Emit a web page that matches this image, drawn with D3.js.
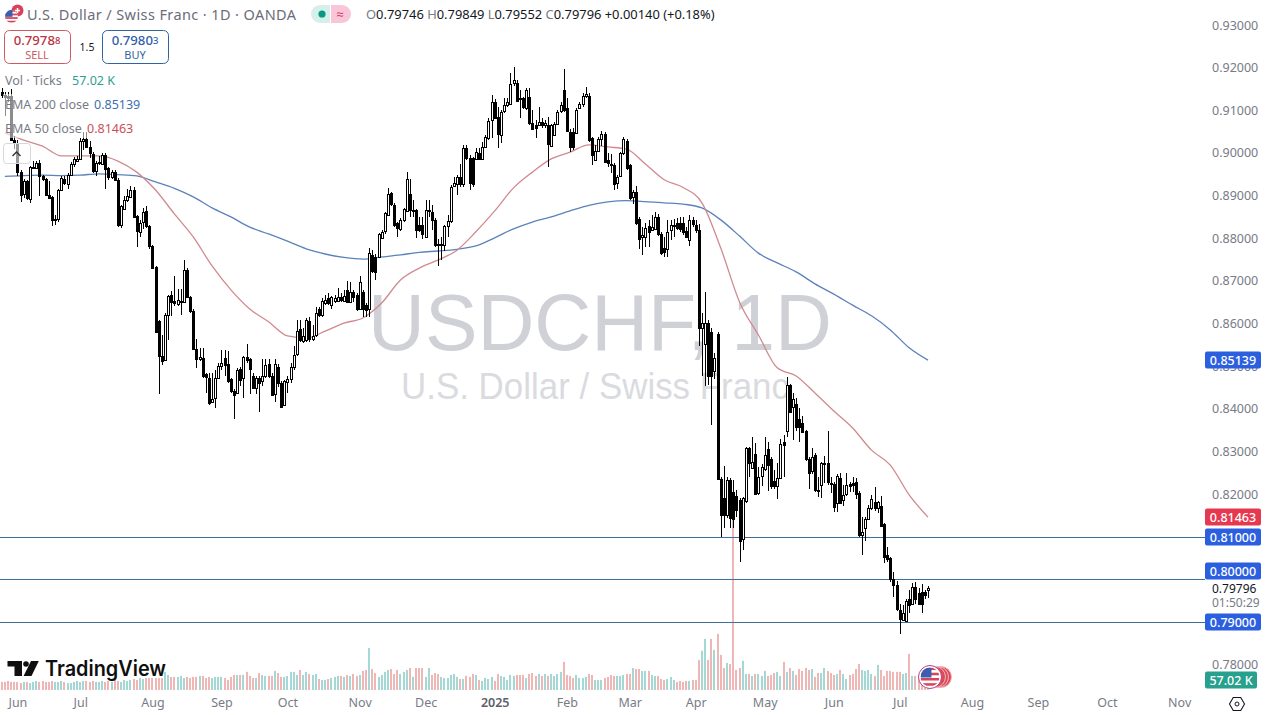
<!DOCTYPE html>
<html><head><meta charset="utf-8">
<script src="https://cdn.jsdelivr.net/npm/d3@7"></script>
<style>
html,body{margin:0;padding:0;background:#fff;overflow:hidden}
svg{display:block}
text{font-family:"Noto Sans","Open Sans",sans-serif}
</style></head><body><div id="chart"></div>
<script>
const lastDate = "2025-07-14";
const opens = [
.9143,.9136,.9134,.9133,.9030,.9023,.8956,.8902,.8933,.8893,
.8967,.8964,.8976,.8945,.8938,.8902,.8896,.8842,.8843,.8912,
.8939,.8929,.8949,.8974,.8982,.8986,.9028,.9032,.9013,.8998,
.8957,.8976,.8976,.8996,.8964,.8945,.8956,.8937,.8832,.8867,
.8889,.8898,.8914,.8851,.8816,.8837,.8863,.8829,.8781,.8733,
.8605,.8524,.8514,.8619,.8668,.8652,.8647,.8650,.8650,.8726,
.8662,.8629,.8541,.8517,.8520,.8481,.8473,.8418,.8426,.8473,
.8500,.8520,.8504,.8469,.8442,
.8438,.8494,.8473,.8522,.8516,
.8478,.8450,.8473,.8465,.8477,.8504,.8478,.8434,.8498,.8461,
.8408,.8461,.8469,.8498,.8527,
.8586,.8559,.8561,.8606,.8563,
.8573,.8635,.8620,.8649,.8659,.8643,
.8653,.8653,.8663,.8653,
.8678,.8651,.8674,.8667,.8635,.8674,.8643,.8635,.8761,.8757,
.8757,.8802,.8815,.8854,.8905,.8878,.8835,.8821,.8843,.8866,
.8903,.8865,.8865,.8831,.8831,.8802,.8865,.8862,.8843,.8786,
.8784,.8784,.8829,.8841,.8922,.8927,.8943,.8927,.9011,.8987,
.8987,.8987,.8999,.8987,.9013,.9037,.9077,.9120,.9085,.9044,
.9097,.9112,.9116,.9163,.9165,.9128,.9128,.9105,.9130,.9071,
.9065,.9065,.9073,.9065,.9065,.9016,.9044,.9069,.9097,.9148,.9106,
.9050,.9048,.9048,
.9105,.9115,.9134,.9134,.9034,.8985,.9005,
.9032,.9044,.8983,.8974,.8972,.8930,.8944,.8999,.9029,.8971,
.8896,.8909,.8844,.8803,.8805,.8829,.8821,.8823,.8850,.8810,
.8776,.8774,.8819,.8829,.8835,.8836,.8836,.8818,.8797,.8843,
.8831,.8820,.8591,.8552,.8602,.8581,.8490,.8576,.8235,.8190,.8149,
.8233,.8206,.8196,.8186,.8094,.8182,.8307,.8263,.8294,.8202,
.8242,.8260,.8305,.8282,.8231,.8219,.8239,.8321,.8347,.8456,
.8403,.8411,.8375,.8367,.8347,.8282,.8252,.8292,.8210,.8221,
.8272,.8274,.8225,.8224,.8178,.8237,.8186,.8200,.8224,.8225,
.8229,.8202,.8104,.8120,.8141,.8167,.8182,.8169,.8172,.8130,
.8057,.8049,.8000,.7986,.7929,.7904,.7904,.7955,.7942,.7983,.7967,.7971,.7971,.79746];
const closes = [
.9136,.9131,.9129,.9030,.9023,.8955,.8902,.8933,.8893,.8967,
.8968,.8976,.8945,.8937,.8900,.8896,.8843,.8845,.8912,.8941,
.8929,.8949,.8974,.8986,.8986,.9028,.9032,.9013,.8998,.8957,
.8976,.8978,.8996,.8964,.8943,.8956,.8937,.8832,.8876,.8889,
.8898,.8914,.8851,.8816,.8836,.8861,.8828,.8781,.8730,.8580,
.8524,.8512,.8619,.8664,.8652,.8647,.8656,.8652,.8726,.8662,
.8629,.8541,.8517,.8522,.8477,.8473,.8414,.8424,.8473,.8500,
.8508,.8504,.8465,.8442,.8432,
.8492,.8469,.8522,.8514,.8492,
.8450,.8473,.8461,.8477,.8502,.8477,.8434,.8505,.8461,.8405,
.8465,.8469,.8498,.8527,.8582,
.8561,.8570,.8608,.8563,.8570,
.8624,.8620,.8653,.8655,.8647,.8661,
.8659,.8663,.8655,.8664,
.8651,.8674,.8663,.8633,.8698,.8633,.8631,.8766,.8724,.8722,
.8810,.8815,.8858,.8904,.8880,.8831,.8823,.8843,.8868,.8940,
.8865,.8866,.8818,.8819,.8811,.8866,.8866,.8844,.8784,.8784,
.8786,.8829,.8841,.8921,.8929,.8944,.8927,.9011,.8987,.8929,
.8925,.9003,.8985,.9015,.9037,.9076,.9120,.9083,.9044,.9097,
.9112,.9120,.9162,.9170,.9123,.9126,.9108,.9148,.9069,.9058,
.9058,.9073,.9065,.9070,.9021,.9065,.9069,.9097,.9112,.9102,.9052,
.9015,.9013,.9101,
.9115,.9134,.9138,.9030,.8993,.9005,.9032,
.9044,.8979,.8976,.8972,.8927,.8944,.8999,.9032,.8966,.8893,
.8908,.8836,.8797,.8807,.8825,.8815,.8827,.8850,.8810,.8766,
.8766,.8815,.8831,.8831,.8823,.8823,.8815,.8805,.8843,.8833,
.8819,.8591,.8602,.8601,.8477,.8477,.8520,.8235,.8151,.8149,.8232,
.8143,.8143,.8164,.8091,.8190,.8307,.8272,.8276,.8200,.8239,
.8264,.8292,.8268,.8219,.8219,.8237,.8318,.8313,.8456,.8393,
.8422,.8357,.8357,.8347,.8282,.8250,.8286,.8210,.8208,.8272,
.8274,.8229,.8224,.8169,.8242,.8178,.8198,.8221,.8219,.8221,
.8202,.8104,.8112,.8141,.8167,.8188,.8167,.8182,.8125,.8052,
.8047,.8000,.7986,.7929,.7908,.7920,.7950,.7942,.7981,.7955,.7942,.7943,.7965,.79796];
const highs = [
.9152,.9143,.9143,.9150,.9040,.9030,.8960,.8939,.8937,.8970,
.8980,.8982,.8984,.8949,.8941,.8933,.8898,.8855,.8915,.8945,
.8945,.8953,.8978,.8990,.8992,.9034,.9050,.9048,.9027,.9003,
.8980,.8992,.8999,.8999,.8968,.8960,.8960,.8941,.8878,.8900,
.8915,.8923,.8921,.8855,.8843,.8871,.8875,.8832,.8785,.8734,
.8608,.8574,.8625,.8668,.8676,.8711,.8680,.8680,.8748,.8730,
.8664,.8633,.8563,.8543,.8543,.8485,.8485,.8485,.8492,.8508,
.8539,.8539,.8535,.8473,.8446,
.8496,.8498,.8524,.8551,.8520,
.8483,.8477,.8477,.8516,.8517,.8517,.8485,.8517,.8504,.8465,
.8467,.8477,.8508,.8547,.8609,
.8608,.8590,.8612,.8616,.8596,
.8639,.8639,.8659,.8667,.8671,.8664,
.8667,.8684,.8671,.8678,
.8700,.8698,.8678,.8671,.8711,.8678,.8647,.8776,.8772,.8764,
.8813,.8819,.8862,.8917,.8909,.8882,.8839,.8847,.8872,.8956,
.8940,.8890,.8868,.8850,.8850,.8890,.8890,.8878,.8847,.8797,
.8803,.8831,.8854,.8925,.8944,.8948,.8974,.9019,.9019,.8995,
.8991,.9011,.9011,.9026,.9042,.9081,.9136,.9126,.9107,.9101,
.9128,.9128,.9187,.9201,.9170,.9148,.9132,.9152,.9152,.9101,
.9077,.9108,.9081,.9078,.9085,.9069,.9073,.9101,.9120,.9196,.9128,
.9055,.9058,.9105,
.9120,.9140,.9154,.9140,.9038,.9019,.9037,
.9052,.9048,.8999,.8997,.8976,.8948,.9003,.9037,.9032,.8974,
.8913,.8922,.8849,.8827,.8835,.8843,.8854,.8862,.8857,.8815,
.8803,.8843,.8843,.8844,.8847,.8849,.8849,.8827,.8854,.8850,
.8843,.8834,.8624,.8675,.8608,.8589,.8530,.8579,.8241,.8266,.8241,
.8237,.8233,.8210,.8190,.8194,.8311,.8311,.8335,.8319,.8264,
.8270,.8333,.8323,.8286,.8256,.8272,.8329,.8339,.8475,.8458,
.8436,.8425,.8401,.8382,.8350,.8286,.8307,.8296,.8241,.8276,
.8290,.8349,.8241,.8229,.8247,.8249,.8221,.8249,.8229,.8241,
.8237,.8208,.8147,.8147,.8174,.8198,.8217,.8184,.8196,.8133,
.8077,.8053,.8018,.7997,.7943,.7940,.7953,.7975,.7992,.7994,.7979,.7990,.7976,.79849];
const lows = [
.9129,.9087,.9120,.9030,.9010,.8945,.8886,.8894,.8890,.8882,
.8964,.8962,.8898,.8933,.8898,.8894,.8828,.8832,.8837,.8910,
.8925,.8915,.8945,.8968,.8980,.8984,.9007,.9011,.8988,.8953,
.8946,.8972,.8972,.8915,.8937,.8939,.8933,.8826,.8824,.8865,
.8884,.8894,.8847,.8779,.8804,.8822,.8824,.8775,.8728,.8577,
.8434,.8502,.8512,.8561,.8617,.8641,.8641,.8619,.8648,.8660,
.8625,.8539,.8496,.8512,.8473,.8438,.8410,.8413,.8403,.8469,
.8492,.8477,.8461,.8438,.8377,
.8434,.8453,.8426,.8508,.8434,
.8446,.8434,.8393,.8453,.8473,.8473,.8430,.8416,.8450,.8403,
.8407,.8438,.8461,.8492,.8524,
.8557,.8555,.8557,.8557,.8559,
.8569,.8616,.8616,.8643,.8643,.8635,
.8649,.8651,.8651,.8651,
.8647,.8647,.8651,.8630,.8631,.8616,.8616,.8616,.8718,.8703,
.8753,.8797,.8811,.8852,.8875,.8827,.8802,.8818,.8839,.8862,
.8849,.8850,.8800,.8815,.8797,.8800,.8850,.8819,.8780,.8735,
.8749,.8771,.8803,.8835,.8919,.8901,.8921,.8921,.8983,.8913,
.8921,.8983,.8983,.8985,.9011,.9030,.9034,.9079,.9011,.9024,
.9093,.9108,.9112,.9157,.9120,.9081,.9102,.9101,.9065,.9054,
.9034,.9063,.9058,.9058,.8966,.9015,.9040,.9065,.9093,.9097,.9048,
.9003,.9007,.9044,
.9102,.9108,.9128,.9026,.8972,.8983,.9003,
.9016,.8976,.8968,.8952,.8913,.8915,.8943,.8995,.8961,.8890,
.8880,.8831,.8774,.8761,.8780,.8780,.8818,.8819,.8805,.8761,
.8757,.8757,.8796,.8803,.8819,.8815,.8807,.8800,.8782,.8827,
.8813,.8547,.8477,.8454,.8456,.8362,.8470,.8233,.8100,.8120,.8143,
.8120,.8120,.8147,.8041,.8069,.8180,.8241,.8260,.8198,.8198,
.8219,.8255,.8208,.8213,.8211,.8188,.8235,.8241,.8333,.8391,
.8327,.8349,.8323,.8343,.8278,.8211,.8248,.8206,.8194,.8190,
.8225,.8221,.8202,.8159,.8159,.8176,.8172,.8196,.8206,.8206,
.8188,.8100,.8057,.8091,.8139,.8163,.8161,.8155,.8122,.8038,
.8041,.7994,.7959,.7926,.7871,.7902,.7902,.7920,.7939,.7943,.7940,.7922,.7955,.79552];
// tick volume in thousands
const volumes = [
42,42,47,42,42,42,36,42,42,36,
42,47,42,47,42,42,47,42,42,47,
42,36,36,42,47,42,47,47,42,47,
42,42,47,42,47,42,52,47,42,52,
47,52,57,52,62,57,62,62,62,62,
62,62,94,78,68,68,68,73,62,68,
62,68,68,73,73,62,68,62,68,68,
68,62,52,68,78,78,78,78,94,73,
62,62,88,78,73,73,73,99,88,68,
68,73,94,94,78,104,78,94,83,78,
83,57,52,52,57,62,68,73,73,68,
78,73,83,73,78,99,104,218,109,88,
68,78,94,104,109,83,104,83,94,104,
114,68,114,114,114,68,114,78,88,83,
68,62,62,78,83,68,57,57,73,68,
83,78,52,47,62,57,68,47,83,73,
68,52,78,73,78,78,78,62,83,88,
73,83,73,83,73,83,73,83,94,146,
78,73,62,78,62,62,68,83,78,52,
52,52,62,68,78,73,73,73,78,83,
83,114,109,109,99,99,99,78,73,73,
57,52,57,68,52,42,47,42,47,47,
52,52,156,203,265,156,265,208,291,182,
114,140,135,900,104,114,151,83,83,73,
83,83,73,99,73,78,88,94,73,146,
94,114,99,78,109,99,114,104,109,68,
88,88,114,99,88,78,83,104,83,57,
78,83,109,135,104,99,104,83,73,130,
104,73,99,99,94,94,94,83,88,187,
73,73,62,52,52,57.02];
// moving averages read every sixth bar, newest first
const emaStep = 6;
const ema200 = [.8514,.8543,.8585,.8618,.8643,.8669,.8693,.8721,.8742,.8765,.8805,.8843,.8871,.8880,.8883,.8886,.8888,.8885,.8877,.8864,.8850,.8838,.8822,.8801,.8782,.8774,.8770,.8767,.8761,.8756,.8751,.8755,.8763,.8775,.8793,.8810,.8826,.8850,.8871,.8897,.8917,.8932,.8946,.8949,.8951,.8948,.8947,.8948,.8947,.8945];
const ema50 = [.8146,.8198,.8268,.8303,.8355,.8395,.8437,.8477,.8496,.8573,.8650,.8777,.8883,.8919,.8937,.8974,.9009,.9014,.9019,.9002,.8986,.8955,.8918,.8864,.8815,.8772,.8749,.8730,.8702,.8648,.8613,.8601,.8582,.8566,.8571,.8604,.8634,.8679,.8735,.8803,.8857,.8913,.8955,.8981,.8993,.8993,.8993,.9016,.9030,.9047];
const priceTicks = [0.93,0.92,0.91,0.90,0.89,0.88,0.87,0.86,0.85,0.84,0.83,0.82,0.78];
const hLevels = [0.81,0.80,0.79];
const monthStarts = ["2024-06-03","2024-07-01","2024-08-01","2024-09-02","2024-10-01","2024-11-01","2024-12-02","2025-01-01","2025-02-03","2025-03-03","2025-04-01","2025-05-01","2025-06-02","2025-07-01","2025-08-01","2025-09-01","2025-10-01","2025-11-03"];
const monthLabels = ["Jun","Jul","Aug","Sep","Oct","Nov","Dec","2025","Feb","Mar","Apr","May","Jun","Jul","Aug","Sep","Oct","Nov"];
const priceTags = [
 {v:0.85139,t:"0.85139",c:"#2b5fe0",dy:0},
 {v:0.81463,t:"0.81463",c:"#e63950",dy:0},
 {v:0.81,t:"0.81000",c:"#2b5fe0",dy:0},
 {v:0.80,t:"0.80000",c:"#2b5fe0",dy:-8},
 {v:0.79,t:"0.79000",c:"#2b5fe0",dy:0}];

const W=1267,H=715;
const n=opens.length, last=n-1;
const BAR=3.14, XLAST=928;
const x=d3.scaleLinear().domain([0,last]).range([XLAST-last*BAR,XLAST]);
const y=d3.scaleLinear().domain([0.93,0.79]).range([25,622]);
const volBase=690;
const yv=d3.scaleLinear().domain([0,57.02]).range([volBase,volBase-11]);

function bizIndex(s){
  const a=new Date(lastDate+"T00:00:00"), b=new Date(s+"T00:00:00");
  const sign=b>=a?1:-1; let c=0;
  const from=b>=a?a:b, to=b>=a?b:a;
  d3.timeDay.range(from,to).forEach(d=>{const k=d.getDay(); if(k!==0&&k!==6)c++;});
  return last+sign*c;
}

const svg=d3.select("#chart").append("svg").attr("width",W).attr("height",H).attr("viewBox",[0,0,W,H]);
svg.append("rect").attr("width",W).attr("height",H).attr("fill","#fff");

svg.append("text").attr("x",600).attr("y",350).attr("text-anchor","middle").attr("font-size",80)
  .attr("textLength",464).attr("lengthAdjust","spacingAndGlyphs").style("font-family","'Liberation Sans'")
  .attr("fill","#d0d1d6").text("USDCHF, 1D");
svg.append("text").attr("x",595).attr("y",399).attr("text-anchor","middle").attr("font-size",37)
  .attr("textLength",388).attr("lengthAdjust","spacingAndGlyphs").style("font-family","'Liberation Sans'")
  .attr("fill","#dadbdf").text("U.S. Dollar / Swiss Franc");

const volOffset=n-volumes.length;
svg.append("g").selectAll("rect").data(volumes).join("rect")
  .attr("x",(d,i)=>Math.round(x(i+volOffset)-1)).attr("width",2)
  .attr("y",d=>yv(d)).attr("height",d=>volBase-yv(d))
  .attr("fill",(d,i)=>closes[i+volOffset]>=opens[i+volOffset]?"#a4d8d4":"#efb6b6");

svg.append("g").selectAll("line").data(hLevels).join("line")
  .attr("x1",0).attr("x2",1205).attr("y1",d=>Math.round(y(d))+.5).attr("y2",d=>Math.round(y(d))+.5)
  .attr("stroke","#3f7099").attr("stroke-width",1);

const emaLine=d3.line().x((d,i)=>x(last-i*emaStep)).y(d=>y(d)).curve(d3.curveMonotoneX);
svg.append("path").attr("d",emaLine(ema200)).attr("fill","none").attr("stroke","#5b82bb").attr("stroke-width",1.3);
svg.append("path").attr("d",emaLine(ema50)).attr("fill","none").attr("stroke","#d08a8f").attr("stroke-width",1.3);

const idx=d3.range(n);
const cg=svg.append("g").attr("shape-rendering","crispEdges");
cg.selectAll("line").data(idx).join("line")
  .attr("x1",i=>Math.round(x(i))+.5).attr("x2",i=>Math.round(x(i))+.5)
  .attr("y1",i=>y(highs[i])).attr("y2",i=>y(lows[i])).attr("stroke","#000");
cg.selectAll("rect").data(idx).join("rect")
  .attr("x",i=>Math.round(x(i))-.5).attr("width",2)
  .attr("y",i=>Math.round(y(Math.max(opens[i],closes[i])))+.5)
  .attr("height",i=>Math.max(1,Math.round(Math.abs(y(opens[i])-y(closes[i])))))
  .attr("fill",i=>closes[i]>=opens[i]?"#fff":"#000").attr("stroke","#000");

svg.append("rect").attr("x",3).attr("y",94).attr("width",135).attr("height",44).attr("fill","#fff").attr("opacity",.55);

const pa=svg.append("g").attr("transform","translate(1212,0)")
  .call(d3.axisRight(y).tickValues(priceTicks).tickSize(0).tickPadding(0).tickFormat(d3.format(".5f")));
pa.select(".domain").remove();
pa.selectAll("text").attr("font-size",12.5).attr("fill","#787b86").style("font-family","'Noto Sans'");

const ta=svg.append("g").attr("transform","translate(0,695)")
  .call(d3.axisBottom(x).tickValues(monthStarts.map(bizIndex)).tickSize(0).tickPadding(3)
    .tickFormat((d,i)=>monthLabels[i]));
ta.select(".domain").remove();
ta.selectAll("text").attr("font-size",12.5).attr("fill",(d,i)=>monthLabels[i]==="2025"?"#5d606b":"#787b86")
  .attr("font-weight",(d,i)=>monthLabels[i]==="2025"?600:400).style("font-family","'Noto Sans'");

const tg=svg.append("g").selectAll("g").data(priceTags).join("g")
  .attr("transform",d=>`translate(1205,${Math.round(y(d.v))+d.dy-8.5})`);
tg.append("rect").attr("width",56).attr("height",17).attr("rx",2).attr("fill",d=>d.c);
tg.append("text").attr("x",28).attr("y",13).attr("text-anchor","middle").attr("font-size",12.5).attr("font-weight",500)
  .attr("fill","#fff").text(d=>d.t);
svg.append("text").attr("x",1212).attr("y",593).attr("font-size",12).attr("fill","#131722").text("0.79796");
svg.append("text").attr("x",1212).attr("y",607).attr("font-size",12).attr("fill","#787b86").text("01:50:29");
svg.append("rect").attr("x",1205).attr("y",671.5).attr("width",52).attr("height",17).attr("rx",2).attr("fill","#27a08e");
svg.append("text").attr("x",1231).attr("y",684.5).attr("text-anchor","middle").attr("font-size",12.5).attr("font-weight",500).attr("fill","#fff").text("57.02 K");

const hex=d3.range(6).map(k=>[1237+7.5*Math.cos(k*Math.PI/3),704+7.5*Math.sin(k*Math.PI/3)]);
svg.append("path").attr("d",d3.line()(hex)+"Z").attr("fill","none").attr("stroke","#131722").attr("stroke-width",1.1);
svg.append("circle").attr("cx",1237).attr("cy",704).attr("r",2).attr("fill","none").attr("stroke","#131722");

const flag=(g,cx,cy,r)=>{
  const id="c"+Math.round(cx);
  g.append("clipPath").attr("id",id).append("circle").attr("cx",cx).attr("cy",cy).attr("r",r);
  const f=g.append("g").attr("clip-path",`url(#${id})`);
  f.append("rect").attr("x",cx-r).attr("y",cy-r).attr("width",2*r).attr("height",2*r).attr("fill","#fff");
  d3.range(4).forEach(k=>f.append("rect").attr("x",cx-r).attr("y",cy-r+k*r*.55).attr("width",2*r).attr("height",r*.27).attr("fill","#d6465a"));
  f.append("rect").attr("x",cx-r).attr("y",cy-r).attr("width",r*1.15).attr("height",r*1.05).attr("fill","#3a5fb0");
};
const head=svg.append("g");
head.append("circle").attr("cx",17.5).attr("cy",10.5).attr("r",6).attr("fill","#d9405a");
head.append("path").attr("d","M15 10.5h5M17.5 8v5").attr("stroke","#fff").attr("stroke-width",1.5);
flag(head,11.5,16.5,6.5);
svg.append("text").attr("x",27).attr("y",20).attr("font-size",14.5).attr("textLength",269).attr("lengthAdjust","spacing").attr("fill","#6a6d78").text("U.S. Dollar / Swiss Franc · 1D · OANDA");
svg.append("path").attr("d","M320 5h0a9 9 0 0 0 0 18h10V5z").attr("fill","#d6efeb");
svg.append("path").attr("d","M331 5h11a9 9 0 0 1 0 18h-11z").attr("fill","#f8c6d8");
svg.append("circle").attr("cx",322).attr("cy",14).attr("r",3.6).attr("fill","#089981");
svg.append("text").attr("x",340).attr("y",18.5).attr("text-anchor","middle").attr("font-size",13).attr("fill","#d9365e").text("≈");
const ohlc=svg.append("text").attr("x",366).attr("y",19).attr("font-size",12.9);
[["O","#787b86"],["0.79746 ","#131722"],["H","#787b86"],["0.79849 ","#131722"],["L","#787b86"],["0.79552 ","#131722"],["C","#787b86"],["0.79796 ","#131722"],["+0.00140 (+0.18%)","#131722"]]
 .forEach(([t,c])=>ohlc.append("tspan").attr("fill",c).attr("xml:space","preserve").text(t));

const btn=(bx,col,dark,big,sup,lab)=>{
  svg.append("rect").attr("x",bx+.5).attr("y",30.5).attr("width",66).attr("height",33).attr("rx",5).attr("fill","#fff").attr("stroke",col);
  const t=svg.append("text").attr("x",bx+33).attr("y",45).attr("text-anchor","middle").attr("font-size",13.2).attr("font-weight",500).attr("fill",dark);
  t.append("tspan").text(big);
  t.append("tspan").attr("font-size",9.5).attr("dy",-1).text(sup);
  svg.append("text").attr("x",bx+33).attr("y",59).attr("text-anchor","middle").attr("font-size",11).attr("fill",col).text(lab);
};
btn(4,"#cc5a63","#b8343f","0.7978","8","SELL");
btn(102,"#2f659f","#2f5fa8","0.7980","3","BUY");
svg.append("text").attr("x",87).attr("y",51).attr("text-anchor","middle").attr("font-size",10.5).attr("fill","#131722").text("1.5");

const legend=[[85,"Vol · Ticks","57.02 K","#2f9f90",72],[109,"EMA 200 close","0.85139","#3e6fb5",94],[133,"EMA 50 close","0.81463","#c9505a",87]];
legend.forEach(([ly,a,b,c,bx])=>{
  svg.append("text").attr("x",5).attr("y",ly).attr("font-size",12.5).attr("fill","#787b86").text(a);
  svg.append("text").attr("x",bx).attr("y",ly).attr("font-size",12.5).attr("fill",c).text(b);
});
svg.append("rect").attr("x",3.5).attr("y",143.5).attr("width",27).attr("height",20).attr("rx",3).attr("fill","#fff").attr("fill-opacity",.6).attr("stroke","#d6d7dc");
svg.append("path").attr("d","M12.5 156l4-4 4 4").attr("fill","none").attr("stroke","#333").attr("stroke-width",1.4);

const logo=svg.append("g").attr("fill","#0f0f0f");
logo.append("path").attr("d","M7.5 661H22V676H14.5V666.5H7.5Z");
logo.append("circle").attr("cx",26).attr("cy",664).attr("r",2.8);
logo.append("path").attr("d","M31 661H38.8L31.5 676H23.6Z");
svg.append("text").attr("x",45).attr("y",676).attr("font-size",21).attr("font-weight",600).attr("textLength",121).attr("lengthAdjust","spacingAndGlyphs")
  .style("font-family","Inter").attr("fill","#0f0f0f").text("TradingView");

const ev=svg.append("g");
[941,938,935].forEach(cx=>ev.append("circle").attr("cx",cx).attr("cy",677).attr("r",10.5).attr("fill","#dc4a58").attr("stroke","#f3b9bf").attr("stroke-width",1));
ev.append("circle").attr("cx",930).attr("cy",677).attr("r",11.5).attr("fill","#fff").attr("stroke","#b5408a").attr("stroke-width",1);
flag(ev,930,677,9.5);
</script></body></html>
